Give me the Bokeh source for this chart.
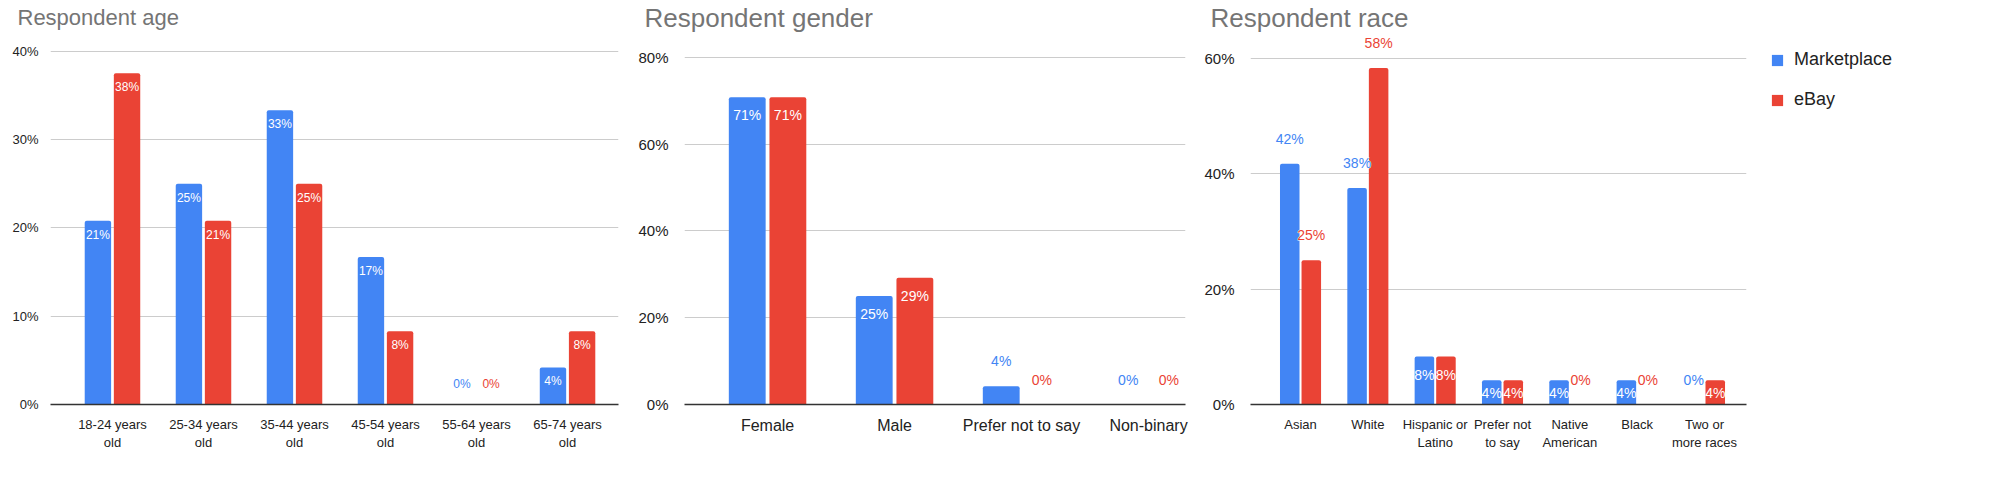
from bokeh.plotting import figure
from bokeh.models import (ColumnDataSource, Range1d, FixedTicker, NumeralTickFormatter,
                          Legend, LegendItem)
from bokeh.layouts import row
from bokeh.transform import dodge
from bokeh.core.properties import value
from bokeh.embed import file_html
from bokeh.resources import INLINE

# ---------------- data ----------------
series_names = ["Marketplace", "eBay"]
series_colors = ["#4285F4", "#EA4335"]

age_categories = ["18-24 years\nold", "25-34 years\nold", "35-44 years\nold",
                  "45-54 years\nold", "55-64 years\nold", "65-74 years\nold"]
age_marketplace = [0.208, 0.25, 0.333, 0.167, 0.0, 0.042]
age_ebay = [0.375, 0.208, 0.25, 0.083, 0.0, 0.083]
age_ticks = [0.0, 0.1, 0.2, 0.3, 0.4]

gender_categories = ["Female", "Male", "Prefer not to say", "Non-binary"]
gender_marketplace = [0.708, 0.25, 0.042, 0.0]
gender_ebay = [0.708, 0.292, 0.0, 0.0]
gender_ticks = [0.0, 0.2, 0.4, 0.6, 0.8]

race_categories = ["Asian", "White", "Hispanic or\nLatino", "Prefer not\nto say",
                   "Native\nAmerican", "Black", "Two or\nmore races"]
race_marketplace = [0.417, 0.375, 0.083, 0.042, 0.042, 0.042, 0.0]
race_ebay = [0.25, 0.583, 0.083, 0.042, 0.0, 0.0, 0.042]
race_ticks = [0.0, 0.2, 0.4, 0.6]

FONT = "Liberation Sans"
BAR_W = 0.29
OFFSETS = [-0.16, 0.16]
H = 473


def make_chart(title, cats, series, ticks, cfg):
    n = len(cats)
    p = figure(width=cfg["width"], height=H, output_backend="svg", toolbar_location=None,
               x_range=Range1d(cfg["x0"], n - 1 + cfg["x1"]),
               y_range=Range1d(0, cfg["ytop"]),
               min_border_left=cfg["bl"], min_border_right=cfg["br"],
               min_border_top=28, min_border_bottom=cfg["bb"])
    p.outline_line_color = None
    p.background_fill_color = "white"
    p.border_fill_color = "white"

    p.title.text = title
    p.title.text_font = FONT
    p.title.text_font_size = cfg["tfs"]
    p.title.text_font_style = "normal"
    p.title.text_color = "#757575"
    p.title.offset = cfg["toff"]
    p.title.standoff = cfg["tstand"]

    idx = list(range(n))
    label_sources = []
    for k, (name, vals) in enumerate(zip(series_names, series)):
        src = ColumnDataSource(dict(idx=idx, v=vals))
        p.vbar(x=dodge("idx", OFFSETS[k], range=p.x_range), top="v", width=BAR_W,
               bottom=0, source=src, fill_color=series_colors[k], line_color=None,
               border_radius=[2, 2, 0, 0])

        rows = dict(idx=[], y=[], t=[], o=[], c=[], out=[])
        for i, v in enumerate(vals):
            h = v * cfg["ppu"]
            outside = (h < 20) or (v >= cfg["out_thr"])
            rows["idx"].append(i)
            rows["y"].append(v)
            rows["t"].append("{:.0%}".format(v))
            rows["out"].append(outside)
            if outside:
                rows["o"].append(-cfg["dout"])
                rows["c"].append(series_colors[k])
            else:
                rows["o"].append(min(cfg["din"], h / 2))
                rows["c"].append("white")
        label_sources.append((k, rows))

    # white halo behind labels that sit outside the bars
    if cfg["halo"]:
        for k, rows in label_sources:
            sel = [j for j, o in enumerate(rows["out"]) if o]
            hsrc = ColumnDataSource({key: [rows[key][j] for j in sel]
                                     for key in ("idx", "y", "t", "o")})
            p.text(x=dodge("idx", OFFSETS[k], range=p.x_range), y="y", text="t",
                   y_offset="o", text_color="white", text_outline_color="white",
                   source=hsrc, text_align="center", text_baseline="middle",
                   text_font=value(FONT), text_font_size=cfg["lfs"])

    for k, rows in label_sources:
        lsrc = ColumnDataSource({key: rows[key] for key in ("idx", "y", "t", "o", "c")})
        p.text(x=dodge("idx", OFFSETS[k], range=p.x_range), y="y", text="t", y_offset="o",
               text_color="c", source=lsrc, text_align="center", text_baseline="middle",
               text_font=value(FONT), text_font_size=cfg["lfs"])

    # axes
    p.xaxis.ticker = FixedTicker(ticks=idx)
    p.xaxis.major_label_overrides = {i: c for i, c in enumerate(cats)}
    p.xaxis.major_tick_line_color = None
    p.xaxis.minor_tick_line_color = None
    p.xaxis.axis_line_color = "#333333"
    p.xaxis.axis_line_width = 1.3
    p.xaxis.major_label_text_font = FONT
    p.xaxis.major_label_text_font_size = cfg["xfs"]
    p.xaxis.major_label_text_color = "#222222"
    p.xaxis.major_label_standoff = 6

    p.yaxis.ticker = FixedTicker(ticks=ticks)
    p.yaxis.formatter = NumeralTickFormatter(format="0%")
    p.yaxis.major_tick_line_color = None
    p.yaxis.minor_tick_line_color = None
    p.yaxis.axis_line_color = None
    p.yaxis.major_label_text_font = FONT
    p.yaxis.major_label_text_font_size = cfg["yfs"]
    p.yaxis.major_label_text_color = "#222222"
    p.yaxis.major_label_standoff = cfg["ystand"]

    p.xgrid.grid_line_color = None
    p.ygrid.grid_line_color = "#cccccc"
    p.ygrid.grid_line_width = 1
    return p


def make_legend(width):
    p = figure(width=width, height=H, output_backend="svg", toolbar_location=None,
               x_range=Range1d(0, 1), y_range=Range1d(0, 1),
               min_border_left=0, min_border_right=0, min_border_top=32, min_border_bottom=0)
    p.outline_line_color = None
    p.xaxis.visible = False
    p.yaxis.visible = False
    p.xgrid.grid_line_color = None
    p.ygrid.grid_line_color = None
    items = []
    for name, col in zip(series_names, series_colors):
        # legend proxy: one row with an undefined height, so nothing is drawn in the frame
        r = p.vbar(x=[0.5], top=[float("nan")], width=0.1, fill_color=col, line_color=None)
        items.append(LegendItem(label=name, renderers=[r]))
    lg = Legend(items=items, location="top_left")
    lg.label_text_font = FONT
    lg.label_text_font_size = "18px"
    lg.label_text_color = "#222222"
    lg.glyph_width = 14
    lg.glyph_height = 14
    lg.label_height = 20
    lg.label_standoff = 10
    lg.spacing = 19
    lg.padding = 0
    lg.margin = 17
    lg.border_line_color = None
    lg.background_fill_color = None
    p.add_layout(lg)
    return p


cfg_age = dict(width=628, bl=50, br=10, bb=66, x0=-0.681, x1=0.56, ytop=0.4211,
               tfs="22px", toff=-33, tstand=5, xfs="13px", yfs="13px", ystand=6,
               lfs="12px", ppu=900.0, din=14, dout=21, out_thr=9.0, halo=False)
cfg_gender = dict(width=564, bl=56, br=7, bb=54, x0=-0.654, x1=0.291, ytop=0.857,
                  tfs="26px", toff=-40, tstand=0, xfs="16px", yfs="15px", ystand=10,
                  lfs="14px", ppu=456.25, din=18, dout=25, out_thr=9.0, halo=False)
cfg_race = dict(width=561, bl=58, br=7, bb=69, x0=-0.743, x1=0.624, ytop=0.6446,
                tfs="26px", toff=-40, tstand=0, xfs="13px", yfs="15px", ystand=10,
                lfs="14px", ppu=583.3, din=18, dout=25, out_thr=0.2, halo=True)

p1 = make_chart("Respondent age", age_categories, [age_marketplace, age_ebay], age_ticks, cfg_age)
p2 = make_chart("Respondent gender", gender_categories, [gender_marketplace, gender_ebay],
                gender_ticks, cfg_gender)
p3 = make_chart("Respondent race", race_categories, [race_marketplace, race_ebay], race_ticks,
                cfg_race)
p4 = make_legend(231)

layout = row(p1, p2, p3, p4, spacing=0)
open("out.html", "w").write(file_html(layout, INLINE))
